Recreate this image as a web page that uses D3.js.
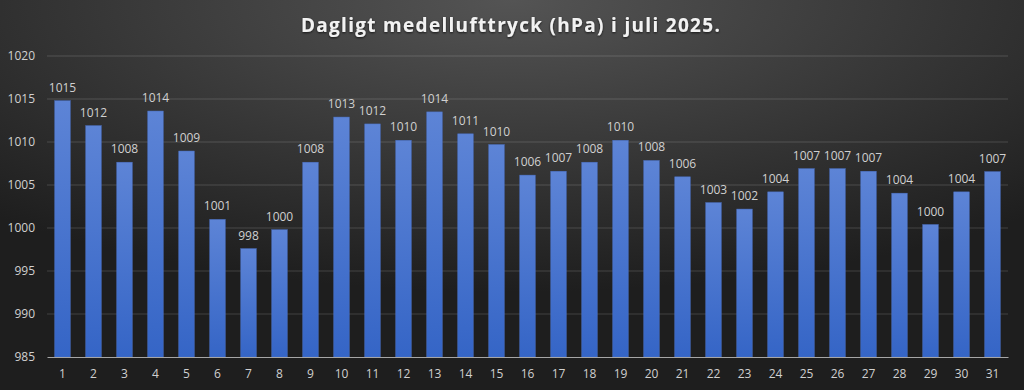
<!DOCTYPE html>
<html>
<head>
<meta charset="utf-8">
<script src="https://cdn.jsdelivr.net/npm/d3@7"></script>
<style>
  html, body { margin: 0; padding: 0; background: #2a2a2a; }
  svg { display: block; }
  .axis text { font-family: "Open Sans", sans-serif; font-size: 12px; fill: #d0d0d0; }
</style>
</head>
<body>
<div id="chart"></div>
<script>
// dagar i juli
var dagar = d3.range(1, 32);
// medellufttryck per dag (hPa)
var tryck = [1014.8, 1011.9, 1007.65, 1013.6, 1008.95, 1001.0, 997.6, 999.8, 1007.65, 1012.9,
             1012.1, 1010.2, 1013.5, 1010.95, 1009.7, 1006.15, 1006.6, 1007.65, 1010.2, 1007.85,
             1005.95, 1002.95, 1002.2, 1004.2, 1006.9, 1006.9, 1006.6, 1004.05, 1000.4, 1004.2, 1006.55];
var yTicks = [985, 990, 995, 1000, 1005, 1010, 1015, 1020];
var titel = "Dagligt medellufttryck (hPa) i juli 2025.";

var W = 1024, H = 390;
var margin = { top: 56, right: 16, bottom: 33, left: 47 };

var svg = d3.select("#chart").append("svg")
    .attr("width", W)
    .attr("height", H);

var defs = svg.append("defs");

// bakgrund, ljusare uppe i mitten
var bg = defs.append("radialGradient").attr("id", "bg")
    .attr("cx", "50%").attr("cy", "0%").attr("r", "75%");
bg.append("stop").attr("offset", "0%").attr("stop-color", "#545454");
bg.append("stop").attr("offset", "100%").attr("stop-color", "#1e1e1e");

var barGrad = defs.append("linearGradient").attr("id", "barGrad")
    .attr("x1", 0).attr("y1", 0).attr("x2", 0).attr("y2", 1);
barGrad.append("stop").attr("offset", "0%").attr("stop-color", "#5d84d6");
barGrad.append("stop").attr("offset", "100%").attr("stop-color", "#3565c6");

var skugga = defs.append("filter").attr("id", "skugga")
    .attr("x", "-10%").attr("y", "-30%").attr("width", "120%").attr("height", "160%");
skugga.append("feDropShadow").attr("dx", 0).attr("dy", 1).attr("stdDeviation", 1.2)
    .attr("flood-color", "#000").attr("flood-opacity", 0.7);

svg.append("rect").attr("width", W).attr("height", H).attr("fill", "url(#bg)");

var width = W - margin.left - margin.right;
var height = H - margin.top - margin.bottom;

var g = svg.append("g")
    .attr("transform", "translate(" + margin.left + "," + margin.top + ")");

var x = d3.scaleBand().domain(dagar).range([0, width]).paddingInner(0.5).paddingOuter(0.25);
var y = d3.scaleLinear().domain([985, 1020]).range([height, 0]);

// stodlinjer
g.append("g")
    .selectAll("line")
    .data(yTicks.slice(1))
    .enter().append("line")
        .attr("x1", 0).attr("x2", width)
        .attr("y1", function (d) { return y(d); })
        .attr("y2", function (d) { return y(d); })
        .attr("stroke", "rgba(255,255,255,0.16)")
        .attr("stroke-width", 1);

// y-axel
var yAxis = g.append("g").attr("class", "axis")
    .call(d3.axisLeft(y).tickValues(yTicks).tickSize(0).tickPadding(12).tickFormat(d3.format("d")));
yAxis.select(".domain").remove();

// staplar
g.selectAll(".bar")
    .data(tryck)
    .enter().append("rect")
        .attr("class", "bar")
        .attr("x", function (d, i) { return x(dagar[i]); })
        .attr("y", function (d) { return y(d); })
        .attr("width", x.bandwidth())
        .attr("height", function (d) { return height - y(d); })
        .attr("fill", "url(#barGrad)")
        .attr("stroke", "#4a70c4")
        .attr("stroke-width", 0.5);

// etiketter
g.selectAll(".etikett")
    .data(tryck)
    .enter().append("text")
        .attr("class", "etikett")
        .attr("x", function (d, i) { return x(dagar[i]) + x.bandwidth() / 2; })
        .attr("y", function (d) { return y(d) - 9; })
        .attr("text-anchor", "middle")
        .style("font-family", "'Open Sans', sans-serif")
        .style("font-size", "12px")
        .style("fill", "#d0d0d0")
        .text(function (d) { return d3.format(".0f")(d); });

// x-axel
var xAxis = g.append("g").attr("class", "axis")
    .attr("transform", "translate(0," + height + ")")
    .call(d3.axisBottom(x).tickSize(0).tickPadding(12));
xAxis.select(".domain").attr("stroke", "#a6a6a6").attr("stroke-width", 1.2);

// rubrik
svg.append("text")
    .attr("x", 511)
    .attr("y", 32)
    .attr("text-anchor", "middle")
    .attr("filter", "url(#skugga)")
    .style("font-family", "'Open Sans', sans-serif")
    .style("font-weight", "bold")
    .style("font-size", "19px")
    .style("letter-spacing", "1.3px")
    .style("fill", "#f2f2f2")
    .text(titel);
</script>
</body>
</html>
